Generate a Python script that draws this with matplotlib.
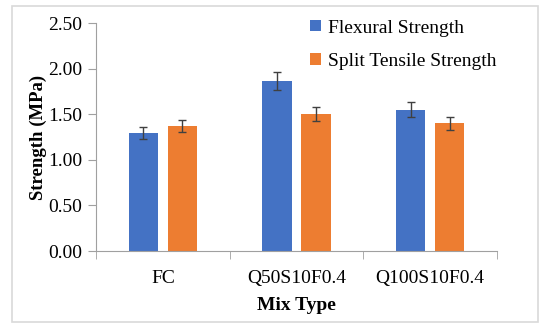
import matplotlib
matplotlib.use("Agg")
import matplotlib.pyplot as plt
import numpy as np
from matplotlib.patches import Rectangle

categories = ["FC", "Q50S10F0.4", "Q100S10F0.4"]
flexural = [1.29, 1.86, 1.55]
flexural_err = [0.065, 0.10, 0.085]
split = [1.37, 1.50, 1.40]
split_err = [0.07, 0.075, 0.07]
yticks = [0.00, 0.50, 1.00, 1.50, 2.00, 2.50]

plt.rcParams['font.family'] = ['Liberation Serif', 'DejaVu Serif']

fig = plt.figure(figsize=(5.5, 3.33), dpi=100)
W, H = 550, 333
ax = fig.add_axes([96/W, 1-251/H, (497-96)/W, (251-23)/H])

x = np.arange(len(categories))
bw = 0.22
gap = 0.07
blue = '#4472C4'
orange = '#ED7D31'
ax.bar(x - (bw+gap)/2, flexural, bw, color=blue, label='Flexural Strength',
       yerr=flexural_err, error_kw=dict(ecolor='#404040', elinewidth=1, capsize=3, capthick=1))
ax.bar(x + (bw+gap)/2, split, bw, color=orange, label='Split Tensile Strength',
       yerr=split_err, error_kw=dict(ecolor='#404040', elinewidth=1, capsize=3, capthick=1))

ax.set_xlim(-0.5, len(categories)-0.5)
ax.set_ylim(0, 2.5)
ax.set_yticks(yticks)
ax.set_yticklabels([f"{v:.2f}" for v in yticks], fontsize=14)
ax.set_xticks(x)
ax.set_xticklabels(categories, fontsize=14)
ax.set_xticks(np.arange(-0.5, len(categories), 1), minor=True)
ax.tick_params(axis='x', which='major', length=0, pad=14)
ax.tick_params(axis='x', which='minor', length=6, color='#A0A0A0')
ax.tick_params(axis='y', length=6, color='#A0A0A0', pad=4)
for s in ['top', 'right']:
    ax.spines[s].set_visible(False)
for s in ['left', 'bottom']:
    ax.spines[s].set_color('#A0A0A0')
ax.set_ylabel('Strength (MPa)', fontsize=13.5, fontweight='bold', labelpad=1)
ax.set_xlabel('Mix Type', fontsize=14, fontweight='bold', labelpad=7)

leg = ax.legend(loc='upper left', bbox_to_anchor=(0.5, 1.075), frameon=False,
                fontsize=14, handlelength=0.55, handleheight=0.55,
                handletextpad=0.35, labelspacing=0.85, borderaxespad=0.3)

fig.patches.append(Rectangle((12/W, 1-322/H), (538-12)/W, (322-6)/H,
                             transform=fig.transFigure, fill=False,
                             edgecolor='#D9D9D9', linewidth=1.2))

fig.savefig('out.png', dpi=100)
